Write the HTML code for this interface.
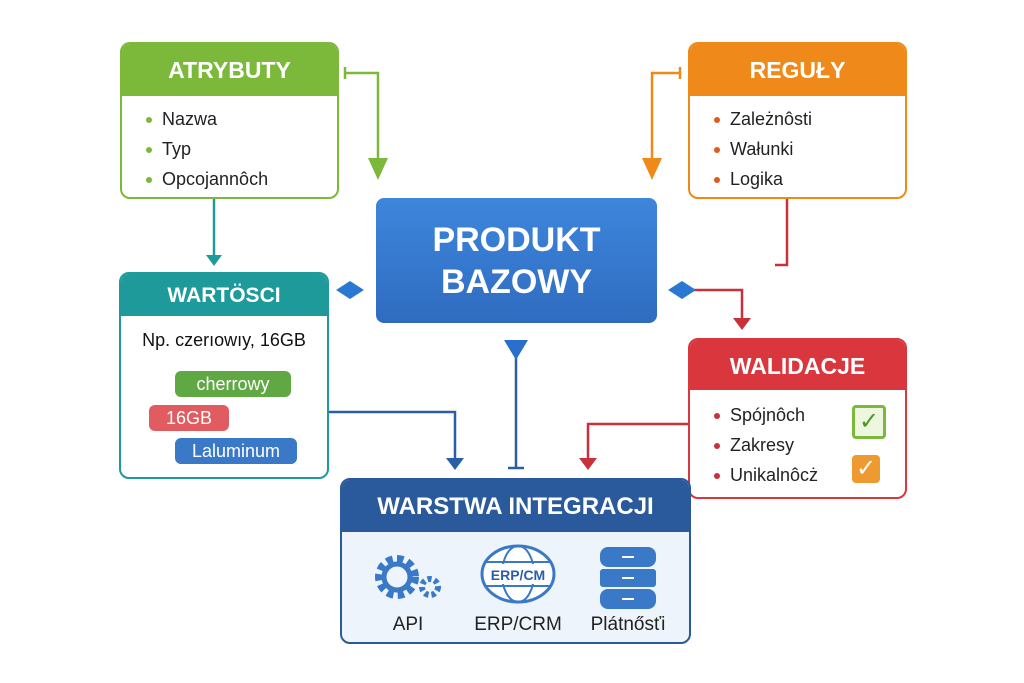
<!DOCTYPE html>
<html><head><meta charset="utf-8"><style>
body{margin:0;width:1024px;height:683px;background:#fff;position:relative;overflow:hidden;font-family:"Liberation Sans",sans-serif}
.box{position:absolute;border:2px solid;border-radius:10px;background:#fff;box-sizing:border-box;overflow:hidden}
.hd{color:#fff;font-weight:bold;text-align:center;font-size:23px}
ul{margin:0;padding:0;list-style:none}
li{font-size:18px;color:#222;height:30px;line-height:30px;padding-left:40px;position:relative}
li:before{content:"";position:absolute;left:24px;top:13px;width:6px;height:6px;border-radius:50%;background:var(--c)}
.pill{position:absolute;border-radius:6px;color:#fff;font-size:18px;text-align:center;line-height:26px;height:26px}
svg{position:absolute;left:0;top:0}
.lb{position:absolute;font-size:19px;color:#222;text-align:center;width:120px}
</style></head><body>
<svg width="1024" height="683">
<g fill="none" stroke-width="2.5">
<path d="M345 73H378V160" stroke="#7cb83a"/><path d="M345 67V79" stroke="#7cb83a"/>
<path d="M680 73H652V160" stroke="#ef8a1a"/><path d="M680 67V79" stroke="#ef8a1a"/>
<path d="M214 198V255" stroke="#1f9a9a"/>
<path d="M787 198V265H775" stroke="#c8303a"/>
<path d="M690 290H742V320" stroke="#c8303a"/>
<path d="M516 340V468M508 468H524" stroke="#2a5fa8"/>
<path d="M328 412H455V460" stroke="#2a5fa8"/>
<path d="M688 424H588V460" stroke="#c8303a"/>
</g>
<polygon points="368,158 388,158 378,180" fill="#7cb83a"/>
<polygon points="642,158 662,158 652,180" fill="#ef8a1a"/>
<polygon points="206,255 222,255 214,266" fill="#1f9a9a"/>
<polygon points="733,318 751,318 742,330" fill="#c8303a"/>
<polygon points="446,458 464,458 455,470" fill="#2a5fa8"/>
<polygon points="579,458 597,458 588,470" fill="#c8303a"/>
<polygon points="504,340 528,340 516,360" fill="#2a6fcc"/>
<polygon points="336,290 350,281 364,290 350,299" fill="#2a78d0"/>
<polygon points="668,290 682,281 696,290 682,299" fill="#2a78d0"/>
</svg>

<div class="box" style="left:120px;top:42px;width:219px;height:157px;border-color:#7cb83a">
<div class="hd" style="background:#7cb83a;height:52px;line-height:52px">ATRYBUTY</div>
<ul style="--c:#7cb83a;padding-top:8px"><li>Nazwa</li><li>Typ</li><li>Opcojannôch</li></ul></div>

<div class="box" style="left:688px;top:42px;width:219px;height:157px;border-color:#ef8a1a">
<div class="hd" style="background:#ef8a1a;height:52px;line-height:52px">REGUŁY</div>
<ul style="--c:#e05a20;padding-top:8px"><li>Zależnôsti</li><li>Wałunki</li><li>Logika</li></ul></div>

<div style="position:absolute;left:376px;top:198px;width:281px;height:125px;border-radius:8px;background:linear-gradient(#3d86dc,#2f6cc0);color:#fff;font-weight:bold;font-size:34px;text-align:center;line-height:42px;padding-top:21px;box-sizing:border-box">PRODUKT<br>BAZOWY</div>

<div class="box" style="left:119px;top:272px;width:210px;height:207px;border-color:#1f9a9a">
<div class="hd" style="background:#1f9a9a;height:42px;line-height:44px;font-size:21px">WARTÖSCI</div>
<div style="text-align:center;font-size:18px;margin-top:14px;color:#111">Np. czerıowıy, 16GB</div>
<div class="pill" style="left:54px;top:97px;width:116px;background:#5fa843">cherrowy</div>
<div class="pill" style="left:28px;top:131px;width:80px;background:#e05c60">16GB</div>
<div class="pill" style="left:54px;top:164px;width:122px;background:#3a78c8">Laluminum</div>
</div>

<div class="box" style="left:688px;top:338px;width:219px;height:161px;border-color:#d9363e">
<div class="hd" style="background:#d9363e;height:50px;line-height:52px">WALIDACJE</div>
<ul style="--c:#c8303a;padding-top:10px"><li>Spójnôch</li><li>Zakresy</li><li>Unikalnôcż</li></ul>
<div style="position:absolute;left:162px;top:65px;width:28px;height:28px;border:3px solid #7cb83a;border-radius:4px;color:#4a9a20;font-size:24px;line-height:28px;text-align:center;background:#eef6e0">✓</div>
<div style="position:absolute;left:162px;top:115px;width:28px;height:28px;background:#ef9a30;border-radius:4px;color:#fff;font-size:24px;line-height:28px;text-align:center">✓</div>
</div>

<div class="box" style="left:340px;top:478px;width:351px;height:166px;border-color:#2a5a9c;background:#eef4fb">
<div class="hd" style="background:#2a5a9c;height:52px;line-height:54px;font-size:24px">WARSTWA INTEGRACJI</div>
<svg width="351" height="110" style="top:52px">
<circle cx="55" cy="45" r="17" fill="none" stroke="#3a78c8" stroke-width="10" stroke-dasharray="6 4"/>
<circle cx="55" cy="45" r="13" fill="none" stroke="#3a78c8" stroke-width="5"/>
<circle cx="88" cy="55" r="8" fill="none" stroke="#3a78c8" stroke-width="6" stroke-dasharray="4 3"/>
<ellipse cx="176" cy="42" rx="36" ry="28" fill="#fff" stroke="#3a78c8" stroke-width="3"/>
<ellipse cx="176" cy="42" rx="16" ry="28" fill="none" stroke="#3a78c8" stroke-width="2"/>
<path d="M142 30H210M142 54H210" stroke="#3a78c8" stroke-width="2"/>
<rect x="146" y="32" width="60" height="20" fill="#fff"/>
<text x="176" y="48" font-size="14" font-weight="bold" fill="#2a5fa8" text-anchor="middle" font-family="Liberation Sans">ERP/CM</text>
<rect x="258" y="15" width="56" height="20" rx="8" fill="#3a78c8"/>
<rect x="258" y="37" width="56" height="18" rx="3" fill="#3a78c8"/>
<rect x="258" y="57" width="56" height="20" rx="8" fill="#3a78c8"/>
<path d="M280 25h12M280 46h12M280 67h12" stroke="#fff" stroke-width="2"/>
</svg>
<div class="lb" style="left:6px;top:134px">API</div>
<div class="lb" style="left:116px;top:134px">ERP/CRM</div>
<div class="lb" style="left:226px;top:134px">Plátnősťi</div>
</div>
</body></html>
